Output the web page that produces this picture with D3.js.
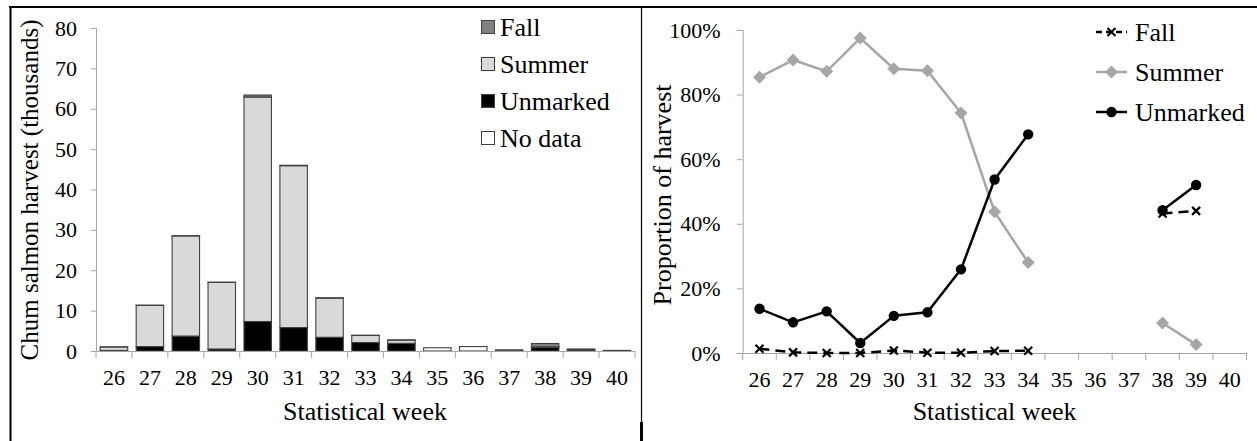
<!DOCTYPE html>
<html><head><meta charset="utf-8">
<script src="https://cdn.jsdelivr.net/npm/d3@7"></script>
<style>
body{margin:0;background:#fff}
svg{display:block}
svg text{font-family:'Liberation Serif','Times New Roman',Times,'DejaVu Serif',serif !important;fill:#000}
</style>
</head><body>
<svg id="c" width="1257" height="441" font-family="'Liberation Serif', 'Times New Roman', serif"></svg>
<script>
// ---------- data ----------
const weeks = [26,27,28,29,30,31,32,33,34,35,36,37,38,39,40];
// left panel: harvest in thousands, stacked
const unmarkedK = [0.14, 1.1, 3.7, 0.5, 7.3, 5.8, 3.4, 2.1, 1.9, 0, 0, 0, 0.85, 0.26, 0];
const summerK   = [0.85, 10.2, 24.8, 16.5, 55.6, 40.1, 9.7, 1.75, 0.8, 0, 0, 0, 0.18, 0.02, 0];
const fallK     = [0.02, 0.05, 0.05, 0.03, 0.5, 0.1, 0.08, 0.05, 0.05, 0, 0, 0, 0.83, 0.22, 0];
const noDataK   = [0, 0, 0, 0, 0, 0, 0, 0, 0, 0.8, 1.1, 0.3, 0, 0, 0.15];
const leftYTicks = [0,10,20,30,40,50,60,70,80];
const barSeries = ["Unmarked","Summer","Fall","No data"];
const barLegend = ["Fall","Summer","Unmarked","No data"];
// right panel: proportion of harvest (%)
const fallPct     = [1.3, 0.2, 0.0, 0.0, 0.8, 0.1, 0.1, 0.6, 0.7, null, null, null, 43.2, 44.0, null];
const summerPct   = [85.4, 90.7, 87.2, 97.5, 88.0, 87.4, 74.3, 43.7, 28.0, null, null, null, 9.3, 2.6, null];
const unmarkedPct = [13.7, 9.5, 12.9, 3.1, 11.5, 12.6, 25.9, 53.7, 67.7, null, null, null, 44.2, 52.0, null];
const rightYTicks = [0,20,40,60,80,100];
const lineLegend = ["Fall","Summer","Unmarked"];

// ---------- styles ----------
const FONT = "'Liberation Serif', 'Times New Roman', serif";
const axisGrey = "#a6a6a6";
const barFill = {"Unmarked":"#000000","Summer":"#d9d9d9","Fall":"#808080","No data":"#ffffff"};
const barStroke = "#404040";

const svg = d3.select("#c");

// frame lines
svg.append("line").attr("x1",9).attr("x2",1257).attr("y1",7).attr("y2",7).attr("stroke","#000").attr("stroke-width",2);
svg.append("line").attr("x1",10.5).attr("x2",10.5).attr("y1",6).attr("y2",441).attr("stroke","#000").attr("stroke-width",2);
svg.append("line").attr("x1",641.5).attr("x2",641.5).attr("y1",6).attr("y2",441).attr("stroke","#000").attr("stroke-width",1.2);
svg.append("line").attr("x1",641.5).attr("x2",641.5).attr("y1",422).attr("y2",441).attr("stroke","#000").attr("stroke-width",3);

function styleAxisText(sel, size){
  sel.attr("font-family",null);
  sel.selectAll("text").attr("font-family",FONT).style("font-family",FONT).style("font-size",size).attr("fill","#000");
}

// ================= LEFT PANEL =================
const xL = d3.scaleBand().domain(weeks).range([96,635]).padding(0);
const yL = d3.scaleLinear().domain([0,80]).range([351,28]);

const rows = weeks.map((w,i)=>({week:w,"Unmarked":unmarkedK[i],"Summer":summerK[i],"Fall":fallK[i],"No data":noDataK[i]}));
const stacked = d3.stack().keys(barSeries)(rows);

const gL = svg.append("g");
const yAxL = gL.append("g").attr("transform","translate(96,0)")
  .call(d3.axisLeft(yL).tickValues(leftYTicks).tickSize(5).tickPadding(14).tickFormat(d3.format("d")));
yAxL.selectAll("path,line").attr("stroke",axisGrey);
styleAxisText(yAxL,"22px");

const bw = xL.bandwidth();
stacked.forEach(s=>{
  gL.append("g").selectAll("rect").data(s.filter(d=>d[1]-d[0]>0)).join("rect")
    .attr("x",d=>xL(d.data.week)+bw*0.118)
    .attr("width",bw*0.764)
    .attr("y",d=>yL(d[1]))
    .attr("height",d=>Math.max(0.01,yL(d[0])-yL(d[1])))
    .attr("fill",barFill[s.key])
    .attr("stroke",barStroke).attr("stroke-width",1.1);
});

const xAxL = gL.append("g").attr("transform","translate(0,351)")
  .call(d3.axisBottom(xL).tickSize(0).tickPadding(18));
xAxL.select("path").attr("stroke",axisGrey);
styleAxisText(xAxL,"22px");
gL.append("g").selectAll("line").data(weeks.map(w=>xL(w)).concat([xL(weeks[weeks.length-1])+bw])).join("line")
  .attr("x1",d=>d).attr("x2",d=>d).attr("y1",351).attr("y2",358).attr("stroke",axisGrey);

gL.append("text").attr("transform","translate(38,190) rotate(-90)").attr("text-anchor","middle")
  .style("font-size","25px").text("Chum salmon harvest (thousands)");
gL.append("text").attr("x",365).attr("y",420).attr("text-anchor","middle")
  .style("font-size","26px").text("Statistical week");

const legL = gL.append("g");
barLegend.forEach((k,i)=>{
  const cy = 27 + i*37;
  legL.append("rect").attr("x",481.5).attr("y",cy-6.5).attr("width",13).attr("height",13)
    .attr("fill",barFill[k]).attr("stroke",barStroke).attr("stroke-width",1);
  legL.append("text").attr("x",500).attr("y",cy+9).style("font-size","26px").text(k);
});

// ================= RIGHT PANEL =================
const xR = d3.scaleBand().domain(weeks).range([742.7,1246.5]).padding(0);
const yR = d3.scaleLinear().domain([0,100]).range([353,30]);
const gR = svg.append("g");
const bwR = xR.bandwidth();
const cx = w => xR(w)+bwR/2;

const yAxR = gR.append("g").attr("transform","translate(742.7,0)")
  .call(d3.axisLeft(yR).tickValues(rightYTicks).tickSize(6).tickPadding(16).tickFormat(d=>d+"%"));
yAxR.selectAll("path,line").attr("stroke",axisGrey);
styleAxisText(yAxR,"22px");

const xAxR = gR.append("g").attr("transform","translate(0,353)")
  .call(d3.axisBottom(xR).tickSize(0).tickPadding(18));
xAxR.select("path").attr("stroke",axisGrey);
styleAxisText(xAxR,"22px");
gR.append("g").selectAll("line").data(weeks.map(w=>xR(w)).concat([xR(weeks[weeks.length-1])+bwR])).join("line")
  .attr("x1",d=>d).attr("x2",d=>d).attr("y1",353).attr("y2",360).attr("stroke",axisGrey);

gR.append("text").attr("transform","translate(671,195) rotate(-90)").attr("text-anchor","middle")
  .style("font-size","26px").text("Proportion of harvest");
gR.append("text").attr("x",994.6).attr("y",420).attr("text-anchor","middle")
  .style("font-size","26px").text("Statistical week");

const seriesR = [
  {name:"Fall", vals:fallPct, color:"#000", dash:"10,6", marker:"x"},
  {name:"Summer", vals:summerPct, color:"#a6a6a6", dash:null, marker:"diamond"},
  {name:"Unmarked", vals:unmarkedPct, color:"#000", dash:null, marker:"circle"}
];
const lineGen = d3.line().defined(d=>d.v!==null).x(d=>cx(d.w)).y(d=>yR(d.v));

function drawMarker(g, type, x, y, color){
  if(type==="circle"){
    g.append("circle").attr("cx",x).attr("cy",y).attr("r",5.2).attr("fill",color);
  } else if(type==="diamond"){
    g.append("path").attr("d",`M${x},${y-6.5}L${x+6.5},${y}L${x},${y+6.5}L${x-6.5},${y}Z`).attr("fill",color);
  } else {
    g.append("path").attr("d",`M${x-4},${y-4}L${x+4},${y+4}M${x-4},${y+4}L${x+4},${y-4}`)
      .attr("stroke",color).attr("stroke-width",2.2).attr("fill","none");
  }
}

seriesR.forEach(s=>{
  const data = weeks.map((w,i)=>({w:w,v:s.vals[i]}));
  const g = gR.append("g");
  g.append("path").datum(data).attr("d",lineGen).attr("fill","none")
    .attr("stroke",s.color).attr("stroke-width",2.5)
    .attr("stroke-dasharray",s.dash).attr("stroke-linejoin","round");
  data.filter(d=>d.v!==null).forEach(d=>drawMarker(g,s.marker,cx(d.w),yR(d.v),s.color));
});

lineLegend.forEach((k,i)=>{
  const s = seriesR.find(o=>o.name===k);
  const cy = 32 + i*40;
  const g = gR.append("g");
  g.append("line").attr("x1",1096).attr("x2",1127).attr("y1",cy).attr("y2",cy)
    .attr("stroke",s.color).attr("stroke-width",2.5).attr("stroke-dasharray",s.dash?"6,4":null);
  drawMarker(g,s.marker,1111.5,cy,s.color);
  g.append("text").attr("x",1135).attr("y",cy+9).style("font-size","26px").text(k);
});
</script>
</body></html>
